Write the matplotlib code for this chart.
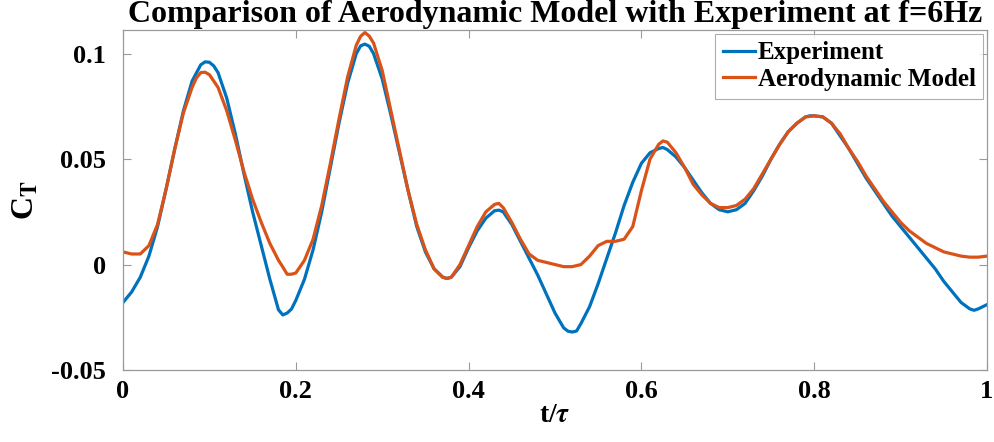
import numpy as np
import matplotlib
matplotlib.use("Agg")
import matplotlib.pyplot as plt

t = [i / 100 for i in range(101)]

experiment = [
    -0.018, -0.013, -0.006, 0.004, 0.018, 0.036, 0.055, 0.073, 0.087, 0.0947,
    0.0959, 0.0910, 0.079, 0.062, 0.043, 0.025, 0.009, -0.007, -0.0215, -0.023,
    -0.017, -0.007, 0.007, 0.025, 0.046, 0.067, 0.086, 0.100, 0.1045, 0.100,
    0.088, 0.071, 0.053, 0.035, 0.018, 0.006, -0.002, -0.006, -0.006, -0.001,
    0.008, 0.016, 0.022, 0.0255, 0.025, 0.019, 0.011, 0.003, -0.005, -0.014,
    -0.023, -0.030, -0.032, -0.028, -0.020, -0.009, 0.003, 0.015, 0.028, 0.039,
    0.048, 0.053, 0.055, 0.0545, 0.051, 0.046, 0.040, 0.034, 0.029, 0.026,
    0.025, 0.026, 0.029, 0.035, 0.042, 0.050, 0.057, 0.063, 0.067, 0.070,
    0.0705, 0.070, 0.067, 0.061, 0.055, 0.048, 0.041, 0.035, 0.029, 0.023,
    0.018, 0.013, 0.008, 0.003, -0.002, -0.008, -0.013, -0.018, -0.021, -0.021,
    -0.019,
]
# extra readings near the turning points of the experiment curve
t_exp_extra = [0.095, 0.105, 0.185, 0.195, 0.275, 0.285, 0.375, 0.435,
               0.515, 0.525, 0.625, 0.795, 0.985]
experiment_extra = [0.0961, 0.0942, -0.0239, -0.0211, 0.1037, 0.1035, -0.0066,
                    0.0258, -0.0316, -0.0315, 0.0555, 0.0705, -0.0217]

model = [
    0.006, 0.005, 0.005, 0.009, 0.019, 0.036, 0.055, 0.072, 0.084, 0.0910,
    0.090, 0.084, 0.073, 0.059, 0.044, 0.031, 0.020, 0.010, 0.002, -0.0046,
    -0.004, 0.002, 0.012, 0.028, 0.048, 0.069, 0.089, 0.104, 0.110, 0.105,
    0.092, 0.073, 0.054, 0.035, 0.019, 0.007, -0.002, -0.006, -0.006, 0.000,
    0.009, 0.018, 0.025, 0.0285, 0.027, 0.020, 0.012, 0.005, 0.002, 0.001,
    0.000, -0.001, -0.001, 0.000, 0.004, 0.009, 0.011, 0.011, 0.012, 0.018,
    0.035, 0.050, 0.057, 0.058, 0.053, 0.046, 0.038, 0.033, 0.029, 0.027,
    0.027, 0.028, 0.031, 0.036, 0.043, 0.050, 0.057, 0.063, 0.067, 0.070,
    0.0705, 0.070, 0.067, 0.062, 0.055, 0.049, 0.042, 0.036, 0.030, 0.025,
    0.020, 0.016, 0.013, 0.010, 0.008, 0.006, 0.005, 0.004, 0.0035, 0.0035,
    0.004,
]
t_mod_extra = [0.085, 0.095, 0.185, 0.195, 0.275, 0.285, 0.375, 0.435, 0.625]
model_extra = [0.0885, 0.0912, -0.0012, -0.0046, 0.1082, 0.1083, -0.0066,
               0.0290, 0.0586]

xticks = [0, 0.2, 0.4, 0.6, 0.8, 1]
xticklabels = ["0", "0.2", "0.4", "0.6", "0.8", "1"]
yticks = [-0.05, 0, 0.05, 0.1]
yticklabels = ["-0.05", "0", "0.05", "0.1"]

def merged(tb, vb, te, ve):
    pairs = sorted(zip(list(tb) + list(te), list(vb) + list(ve)))
    return [p[0] for p in pairs], [p[1] for p in pairs]

te_all, exp_all = merged(t, experiment, t_exp_extra, experiment_extra)
tm_all, mod_all = merged(t, model, t_mod_extra, model_extra)

plt.rcParams['font.family'] = ['Liberation Serif', 'DejaVu Serif']
plt.rcParams['font.weight'] = 'bold'
plt.rcParams['mathtext.fontset'] = 'stix'

fig = plt.figure(figsize=(9.94, 4.42), dpi=100)
ax = fig.add_axes([123 / 994, 1 - 370 / 442, 864 / 994, 340 / 442])

ax.plot(te_all, exp_all, color='#0072BD', lw=2.3, label='Experiment',
        solid_joinstyle='round')
ax.plot(tm_all, mod_all, color='#D95319', lw=2.3, label='Aerodynamic Model',
        solid_joinstyle='round')

ax.set_xlim(0, 1)
ax.set_ylim(-0.05, 0.1112)
ax.set_xticks(xticks)
ax.set_xticklabels(xticklabels, fontsize=19, fontweight='bold')
ax.set_yticks(yticks)
ax.set_yticklabels(yticklabels, fontsize=19, fontweight='bold')
ax.tick_params(direction='in', length=6, width=0.8, color='#9a9a9a',
               top=True, right=True)
ax.tick_params(axis='y', pad=12)
ax.tick_params(axis='x', pad=7)
for s in ax.spines.values():
    s.set_color('#9a9a9a')
    s.set_linewidth(0.9)

ax.set_title('Comparison of Aerodynamic Model with Experiment at f=6Hz',
             fontsize=23, fontweight='bold', pad=6)
ax.set_xlabel(r't/$\tau$', fontsize=20, fontweight='bold', labelpad=0)
ax.set_ylabel(r'C$_\mathbf{T}$', fontsize=23, fontweight='bold', labelpad=8)

leg = ax.legend(loc='upper right', fontsize=18, frameon=True, fancybox=False,
                edgecolor='#9a9a9a', handlelength=1.3, handletextpad=0.1,
                borderaxespad=0.15, labelspacing=0.15, borderpad=0.3)
leg.get_frame().set_linewidth(0.8)
for txt in leg.get_texts():
    txt.set_fontweight('bold')

fig.savefig('out.png', dpi=100)
